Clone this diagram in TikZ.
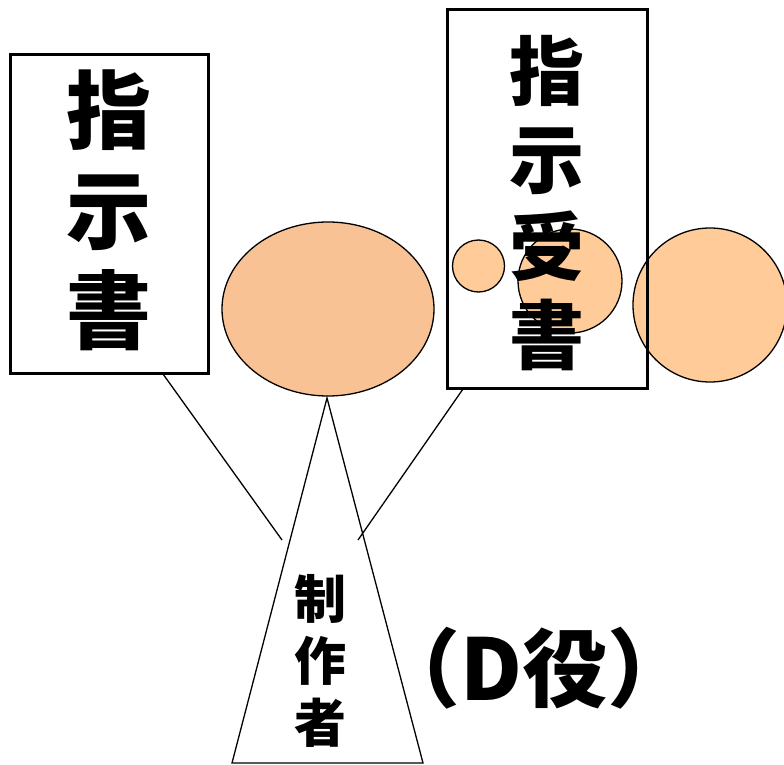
\documentclass[tikz,border=0pt]{standalone}
\usepackage{fontspec}
\usetikzlibrary{shapes.geometric}
\newfontfamily\cjk{Noto Sans CJK JP}
\definecolor{ellfill}{HTML}{F9C294}
\definecolor{circfill}{HTML}{FFCC99}
\begin{document}
\begin{tikzpicture}[x=1pt,y=-1pt,
  thinline/.style={draw=black,line width=1.3pt},
  box/.style={draw=black,line width=3pt,inner sep=0pt},
  bigtext/.style={font=\cjk\bfseries\fontsize{85}{100}\selectfont,align=center,inner sep=0pt},
  midtext/.style={font=\cjk\bfseries\fontsize{75}{88}\selectfont,align=center,inner sep=0pt},
  smalltext/.style={font=\cjk\bfseries\fontsize{52}{62}\selectfont,align=center,inner sep=0pt}]
\useasboundingbox (0,0) rectangle (784,765);
% circles and ellipse
\node[thinline,fill=ellfill,ellipse,minimum width=212pt,minimum height=174pt,inner sep=0pt] (ell) at (328,309) {};
\node[thinline,fill=circfill,circle,minimum size=52pt,inner sep=0pt] (c1) at (478.5,266) {};
\node[thinline,fill=circfill,circle,minimum size=104pt,inner sep=0pt] (c2) at (570,281) {};
\node[thinline,fill=circfill,circle,minimum size=154pt,inner sep=0pt] (c3) at (710,305) {};
% rectangles
\node[box,minimum width=198pt,minimum height=318pt] (lrect) at (109,214) {};
\node[box,minimum width=200pt,minimum height=378pt] (rrect) at (547,199) {};
% texts
\node[bigtext] (ltxt) at (109,210) {指\\示\\書};
\node[midtext] (rtxt) at (547,203.5) {指\\示\\受\\書};
% triangle
\coordinate (apex) at (327,398);
\coordinate (bl) at (232,763);
\coordinate (br) at (423,763);
\draw[thinline,line join=miter] (apex) -- (bl) -- (br) -- cycle;
\node[smalltext] (ttxt) at (320,661) {制\\作\\者};
% connectors
\coordinate (lstart) at (163,374);
\coordinate (lend) at (282,540);
\coordinate (rstart) at (463,389);
\coordinate (rend) at (358,540);
\draw[thinline] (lstart) -- (lend);
\draw[thinline] (rstart) -- (rend);
% role label
\node[font=\cjk\bfseries\fontsize{85}{95}\selectfont,inner sep=0pt] (role) at (534,668) {（D役）};
\end{tikzpicture}
\end{document}
